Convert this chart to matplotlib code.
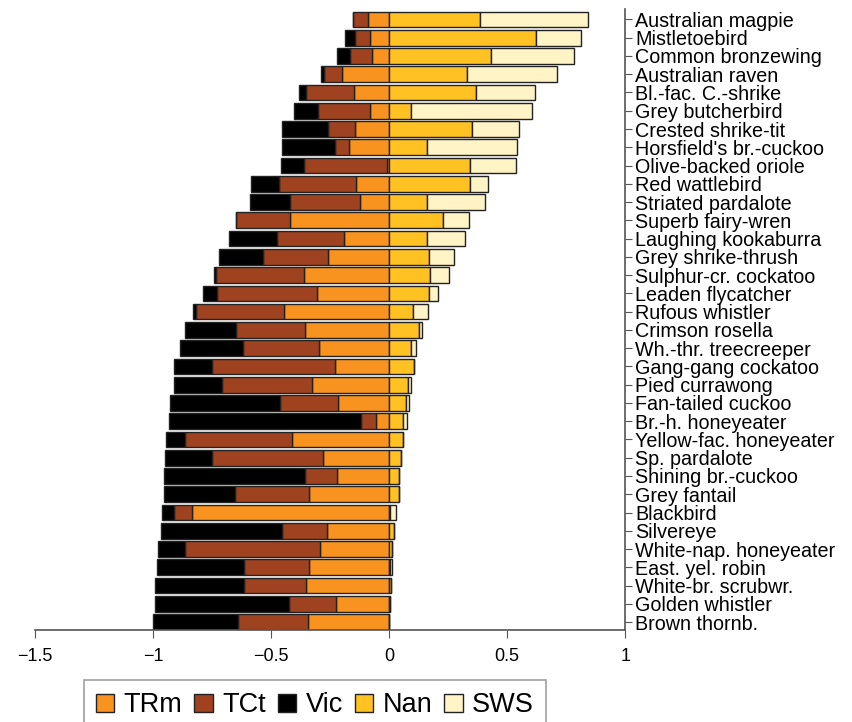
import matplotlib.pyplot as plt
import numpy as np

plt.rcParams['font.family'] = ['Liberation Sans', 'DejaVu Sans']

# --- Datos (de arriba hacia abajo) ---
especies = [
    "Australian magpie", "Mistletoebird", "Common bronzewing", "Australian raven",
    "Bl.-fac. C.-shrike", "Grey butcherbird", "Crested shrike-tit", "Horsfield's br.-cuckoo",
    "Olive-backed oriole", "Red wattlebird", "Striated pardalote", "Superb fairy-wren",
    "Laughing kookaburra", "Grey shrike-thrush", "Sulphur-cr. cockatoo", "Leaden flycatcher",
    "Rufous whistler", "Crimson rosella", "Wh.-thr. treecreeper", "Gang-gang cockatoo",
    "Pied currawong", "Fan-tailed cuckoo", "Br.-h. honeyeater", "Yellow-fac. honeyeater",
    "Sp. pardalote", "Shining br.-cuckoo", "Grey fantail", "Blackbird",
    "Silvereye", "White-nap. honeyeater", "East. yel. robin", "White-br. scrubwr.",
    "Golden whistler", "Brown thornb.",
]

# lado negativo
trm = [0.089, 0.079, 0.071, 0.200, 0.150, 0.082, 0.146, 0.170, 0.011, 0.139, 0.122, 0.420,
       0.191, 0.257, 0.359, 0.305, 0.444, 0.356, 0.295, 0.231, 0.326, 0.217, 0.057, 0.413,
       0.281, 0.220, 0.338, 0.834, 0.262, 0.294, 0.338, 0.352, 0.224, 0.345]
tct = [0.064, 0.064, 0.094, 0.074, 0.204, 0.218, 0.113, 0.060, 0.350, 0.329, 0.300, 0.230,
       0.285, 0.277, 0.373, 0.423, 0.376, 0.294, 0.326, 0.520, 0.380, 0.244, 0.061, 0.450,
       0.471, 0.135, 0.315, 0.078, 0.191, 0.572, 0.277, 0.262, 0.199, 0.295]
vic = [0.000, 0.043, 0.057, 0.016, 0.028, 0.105, 0.193, 0.223, 0.096, 0.115, 0.167, 0.000,
       0.201, 0.187, 0.010, 0.060, 0.010, 0.213, 0.265, 0.160, 0.206, 0.468, 0.813, 0.082,
       0.199, 0.600, 0.302, 0.050, 0.515, 0.113, 0.369, 0.379, 0.570, 0.362]
# lado positivo
nan = [0.383, 0.624, 0.433, 0.329, 0.366, 0.092, 0.352, 0.160, 0.343, 0.343, 0.159, 0.227,
       0.160, 0.167, 0.174, 0.167, 0.103, 0.125, 0.092, 0.104, 0.078, 0.071, 0.057, 0.057,
       0.050, 0.040, 0.040, 0.003, 0.021, 0.014, 0.003, 0.007, 0.004, 0.000]
sws = [0.461, 0.189, 0.348, 0.383, 0.251, 0.511, 0.199, 0.382, 0.193, 0.075, 0.245, 0.111,
       0.162, 0.109, 0.078, 0.041, 0.062, 0.014, 0.021, 0.003, 0.014, 0.014, 0.017, 0.003,
       0.000, 0.000, 0.000, 0.025, 0.000, 0.000, 0.008, 0.000, 0.000, 0.000]

colores = {'TRm': '#F7931E', 'TCt': '#9E4220', 'Vic': '#000000',
           'Nan': '#FFC222', 'SWS': '#FFF4C6'}

n = len(especies)
y = np.arange(n)[::-1]
trm_a, tct_a, vic_a = np.array(trm), np.array(tct), np.array(vic)
nan_a, sws_a = np.array(nan), np.array(sws)

fig = plt.figure(figsize=(8.53, 7.22), dpi=100)
ax = fig.add_axes([0.041, 0.127, 0.692, 0.86])

kw = dict(height=0.86, edgecolor='#222222', linewidth=1.0)
b1 = ax.barh(y, -trm_a, color=colores['TRm'], label='TRm', **kw)
b2 = ax.barh(y, -tct_a, left=-trm_a, color=colores['TCt'], label='TCt', **kw)
b3 = ax.barh(y, -vic_a, left=-(trm_a + tct_a), color=colores['Vic'], label='Vic', **kw)
b4 = ax.barh(y, nan_a, color=colores['Nan'], label='Nan', **kw)
b5 = ax.barh(y, sws_a, left=nan_a, color=colores['SWS'], label='SWS', **kw)

ax.set_xlim(-1.5, 1)
ax.set_ylim(-0.45, n - 0.45)
ax.set_xticks([-1.5, -1, -0.5, 0, 0.5, 1])
ax.set_xticklabels(['\u22121.5', '\u22121', '\u22120.5', '0', '0.5', '1'], fontsize=13)
ax.set_yticks(y)
ax.set_yticklabels(especies, fontsize=14.2)
ax.yaxis.tick_right()

for s in ['top', 'left']:
    ax.spines[s].set_visible(False)
for s in ['bottom', 'right']:
    ax.spines[s].set_color('#555555')
    ax.spines[s].set_linewidth(1.2)
ax.tick_params(axis='x', direction='out', length=6, color='#555555', pad=7)
ax.tick_params(axis='y', direction='out', length=5, color='#555555', pad=2)

leg = fig.legend(handles=[b1, b2, b3, b4, b5], loc='upper left',
                 bbox_to_anchor=(0.098, 0.058), ncol=5, fontsize=19.5,
                 handlelength=0.68, handleheight=0.65, handletextpad=0.34,
                 columnspacing=0.45, fancybox=False, borderpad=0.45,
                 borderaxespad=0)
leg.get_frame().set_edgecolor('#888888')
leg.get_frame().set_linewidth(1.2)

fig.savefig('out.png', dpi=100)
